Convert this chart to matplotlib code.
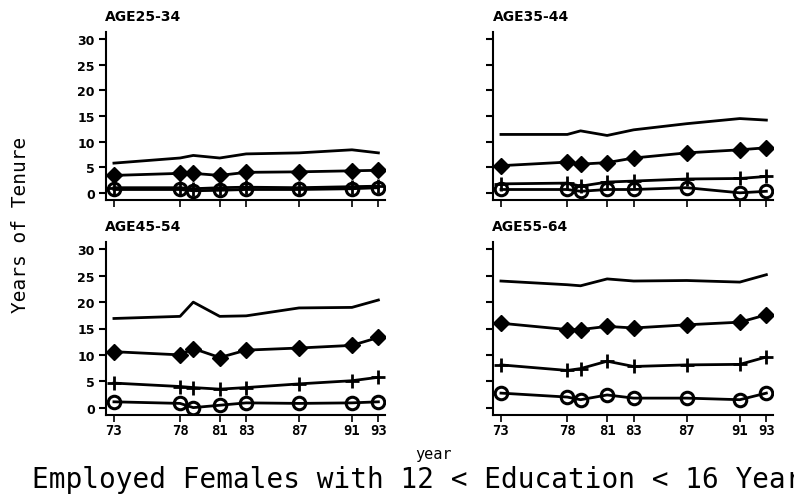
import matplotlib
matplotlib.use('Agg')
import matplotlib.pyplot as plt

# survey years and axis ticks
years = [73, 78, 79, 81, 83, 87, 91, 93]
xticks = [73, 78, 81, 83, 87, 91, 93]
yticks = [0, 5, 10, 15, 20, 25, 30]
panels = ['AGE25-34', 'AGE35-44', 'AGE45-54', 'AGE55-64']

# top line (no markers)
line_25 = [5.8, 6.8, 7.3, 6.8, 7.6, 7.8, 8.4, 7.8]
line_35 = [11.4, 11.4, 12.1, 11.2, 12.3, 13.5, 14.5, 14.2]
line_45 = [16.9, 17.3, 20.0, 17.3, 17.4, 18.9, 19.0, 20.4]
line_55 = [24.0, 23.3, 23.1, 24.4, 24.0, 24.1, 23.8, 25.2]

# diamonds
diam_25 = [3.4, 3.8, 3.8, 3.4, 4.0, 4.1, 4.3, 4.4]
diam_35 = [5.3, 6.0, 5.6, 5.9, 6.8, 7.8, 8.4, 8.8]
diam_45 = [10.6, 10.0, 11.2, 9.5, 10.9, 11.3, 11.8, 13.3]
diam_55 = [16.0, 14.8, 14.8, 15.4, 15.1, 15.7, 16.2, 17.6]

# plus
plus_25 = [1.0, 1.0, 0.8, 1.0, 1.1, 1.0, 1.2, 1.3]
plus_35 = [1.75, 1.9, 1.3, 2.1, 2.3, 2.7, 2.8, 3.2]
plus_45 = [4.65, 4.0, 3.8, 3.5, 3.8, 4.5, 5.1, 5.75]
plus_55 = [8.1, 7.05, 7.4, 8.8, 7.8, 8.1, 8.2, 9.6]

# circles
circ_25 = [0.65, 0.65, 0.4, 0.5, 0.65, 0.65, 0.8, 1.0]
circ_35 = [0.65, 0.65, 0.3, 0.65, 0.65, 1.0, 0.0, 0.3]
circ_45 = [1.1, 0.8, 0.0, 0.45, 0.9, 0.8, 0.9, 1.1]
circ_55 = [2.75, 2.0, 1.5, 2.4, 1.8, 1.8, 1.5, 2.75]

lines = [line_25, line_35, line_45, line_55]
diams = [diam_25, diam_35, diam_45, diam_55]
pluss = [plus_25, plus_35, plus_45, plus_55]
circs = [circ_25, circ_35, circ_45, circ_55]

W, H = 794, 502
fig = plt.figure(figsize=(W / 100, H / 100), dpi=100)

# axes boxes in pixels: left, top, right, bottom
boxes = [(106, 33, 385, 201), (493, 33, 773, 201),
         (106, 243, 385, 416), (493, 243, 773, 416)]
titles_xy = [(105, 21), (493, 21), (105, 231), (492, 231)]

lw = 2.0
for i in range(4):
	l, t, r, b = boxes[i]
	ax = fig.add_axes([l / W, 1 - b / H, (r - l) / W, (b - t) / H])
	ax.plot(years, lines[i], color='black', lw=lw)
	ax.plot(years, diams[i], color='black', lw=lw, marker='D', ms=8)
	ax.plot(years, pluss[i], color='black', lw=lw, marker='+', ms=10, mew=2)
	ax.plot(years, circs[i], color='black', lw=lw, marker='o', ms=9,
	        mfc='none', mew=2.2)
	ax.set_xlim(72.4, 93.5)
	ax.set_ylim(-1.4, 31.4)
	ax.set_xticks(xticks)
	ax.set_yticks(yticks)
	for s in ['top', 'right']:
		ax.spines[s].set_visible(False)
	for s in ['left', 'bottom']:
		ax.spines[s].set_linewidth(1.5)
	ax.tick_params(axis='y', length=5, width=1.5, pad=3, labelsize=9)
	ax.tick_params(axis='x', length=5, width=1.2, pad=1, labelsize=10)
	for lab in ax.get_yticklabels():
		lab.set_fontweight('bold')
	for lab in ax.get_xticklabels():
		lab.set_fontweight('bold')
		lab.set_family('DejaVu Sans Mono')
	if i % 2 == 1:
		ax.set_yticklabels([])
	if i < 2:
		ax.set_xticklabels([])
	tx, ty = titles_xy[i]
	fig.text(tx / W, 1 - ty / H, panels[i], fontsize=10, fontweight='bold',
	         ha='left', va='baseline')

fig.text(21 / W, 1 - 225 / H, 'Years of Tenure', rotation=90, fontsize=14,
         family='DejaVu Sans Mono', ha='center', va='center')
fig.text(433 / W, 1 - 459 / H, 'year', fontsize=11,
         family='DejaVu Sans Mono', ha='center', va='baseline')
fig.text(32 / W, 1 - 488 / H, 'Employed Females with 12 < Education < 16 Years',
         fontsize=20, family='DejaVu Sans Mono', ha='left', va='baseline')

fig.savefig('out.png', dpi=100)
